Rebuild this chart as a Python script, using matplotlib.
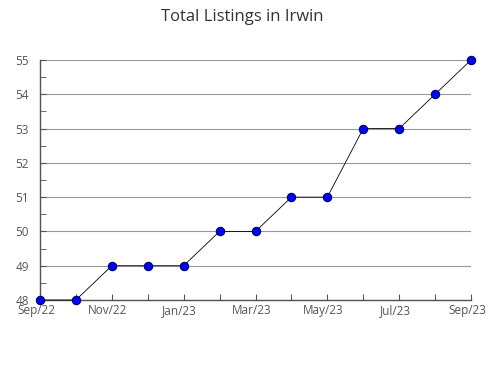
import matplotlib
matplotlib.use("Agg")
import matplotlib.pyplot as plt
import matplotlib.transforms as mtrans

months = ["Sep/22", "Oct/22", "Nov/22", "Dec/22", "Jan/23", "Feb/23", "Mar/23",
          "Apr/23", "May/23", "Jun/23", "Jul/23", "Aug/23", "Sep/23"]
listings = [48, 48, 49, 49, 49, 50, 50, 51, 51, 53, 53, 54, 55]
y_ticks = [48, 49, 50, 51, 52, 53, 54, 55]

plt.rcParams['font.family'] = ['Open Sans', 'DejaVu Sans']

fig = plt.figure(figsize=(4.9, 3.8), dpi=100)
ax = fig.add_axes([40/490, 1 - 300/380, 431/490, 240/380])

x = list(range(len(months)))
ax.plot(x, listings, color='black', linewidth=0.6, marker='o', markersize=6,
        markerfacecolor='#0000ff', markeredgecolor='#000060', markeredgewidth=0.8,
        zorder=3, clip_on=False)

ax.set_xlim(0, len(months) - 1)
ax.set_ylim(48, 55)
ax.set_yticks(y_ticks)
ax.set_yticks([v + 0.5 for v in y_ticks[:-1]], minor=True)
ax.set_yticklabels([str(v) for v in y_ticks])
ax.set_xticks(x)
ax.set_xticklabels([m if i % 2 == 0 else "" for i, m in enumerate(months)])

ax.grid(axis='y', which='major', color='#999999', linewidth=0.8)
ax.set_axisbelow(True)
for s in ['top', 'right']:
    ax.spines[s].set_visible(False)
for s in ['left', 'bottom']:
    ax.spines[s].set_color('#555555')
    ax.spines[s].set_linewidth(1)

ax.tick_params(axis='y', which='both', direction='in', length=4, color='#555555',
               labelsize=8.5, labelcolor='#555555', pad=8)
ax.tick_params(axis='x', which='both', direction='in', length=4, color='#555555',
               labelsize=8.5, labelcolor='#555555', pad=3)

offset = mtrans.ScaledTranslation(-4/100, 0, fig.dpi_scale_trans)
for lbl in ax.get_xticklabels():
    lbl.set_transform(lbl.get_transform() + offset)

fig.text(242/490, 1 - 17/380, "Total Listings in Irwin", ha='center', va='center',
         fontsize=12, color='#333333')

fig.savefig("out.png", dpi=100)
